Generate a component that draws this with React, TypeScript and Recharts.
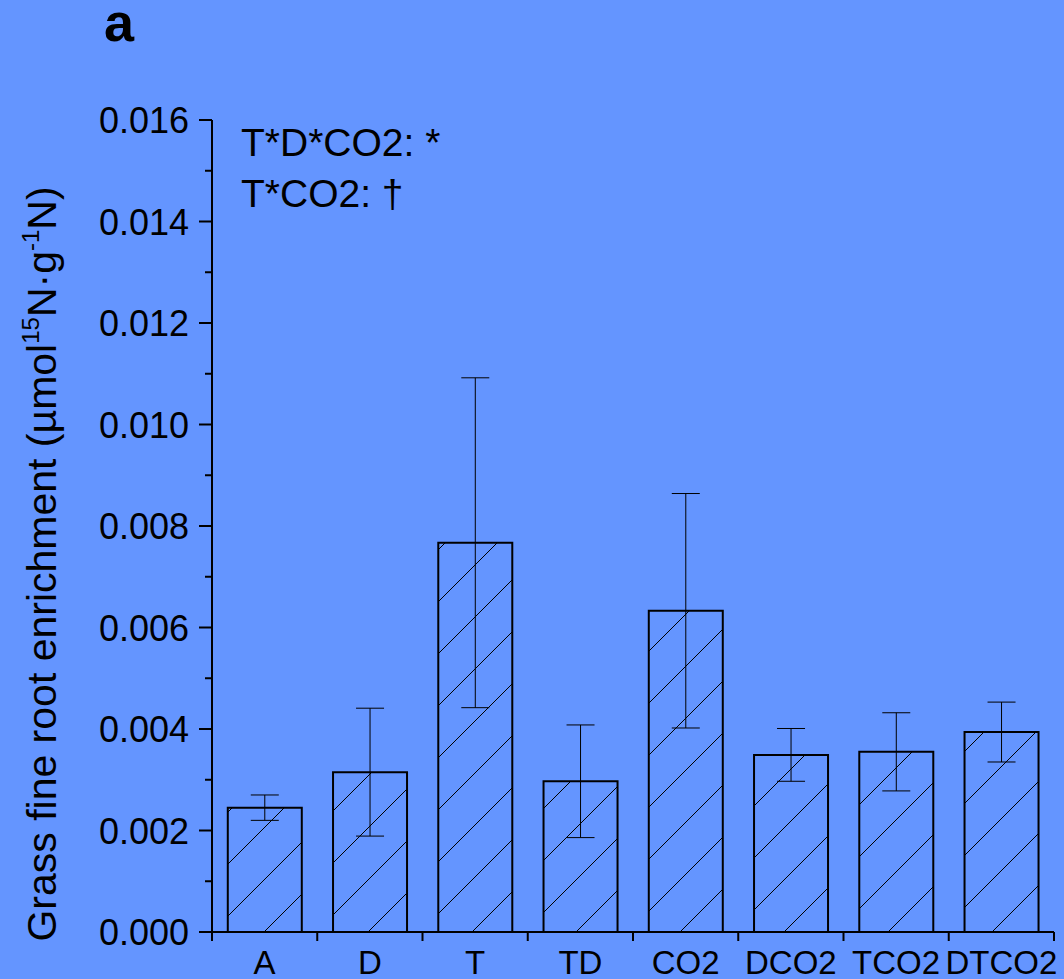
import React from 'react';
import { BarChart, Bar, XAxis, YAxis, ErrorBar } from 'recharts';

const categories = ['A', 'D', 'T', 'TD', 'CO2', 'DCO2', 'TCO2', 'DTCO2'];
const means = [0.00245, 0.00315, 0.00767, 0.00297, 0.00633, 0.00349, 0.00355, 0.00394];
const errs = [0.00025, 0.00126, 0.00325, 0.00111, 0.00231, 0.00052, 0.00077, 0.00059];
const yTicks = [0, 0.001, 0.002, 0.003, 0.004, 0.005, 0.006, 0.007, 0.008, 0.009, 0.01, 0.011, 0.012, 0.013, 0.014, 0.015, 0.016];
const annotations = ['T*D*CO2: *', 'T*CO2: \u2020'];
const panelLabel = 'a';

const data = categories.map((c, i) => ({ name: c, value: means[i], err: errs[i] }));

const FONT = '"Liberation Sans", Arial, sans-serif';
const BG = '#6495FF';

const YTick = (props: any) => {
  const { x, y, payload, index } = props;
  const major = index % 2 === 0;
  return (
    <g>
      <line x1={x - (major ? 13 : 7)} x2={x} y1={y} y2={y} stroke="#000" strokeWidth={2} />
      {major && (
        <text x={x - 23} y={y + 13} textAnchor="end" fontFamily={FONT} fontSize={36} fill="#000">
          {Number(payload.value).toFixed(3)}
        </text>
      )}
    </g>
  );
};

const XTick = (props: any) => {
  const { x, y, payload, index, visibleTicksCount } = props;
  const half = payload.offset ?? 52.6;
  const last = index === (visibleTicksCount ?? categories.length) - 1;
  return (
    <g>
      <line x1={x - half} x2={x - half} y1={y} y2={y + 9} stroke="#000" strokeWidth={2} />
      {last && <line x1={x + half} x2={x + half} y1={y} y2={y + 9} stroke="#000" strokeWidth={2} />}
      <text x={x} y={y + 42} textAnchor="middle" fontFamily={FONT} fontSize={33} fill="#000">
        {payload.value}
      </text>
    </g>
  );
};

export default function App() {
  return (
    <div style={{ position: 'absolute', left: 0, top: 0, width: 1064, height: 979, background: BG }}>
      <BarChart
        width={1064}
        height={979}
        data={data}
        margin={{ top: 120, right: 10, bottom: 0, left: 0 }}
        barCategoryGap="15%"
      >
        <defs>
          <pattern id="hatch" patternUnits="userSpaceOnUse" width={52} height={52}>
            <path d="M0,52 L52,0 M-13,13 L13,-13 M39,65 L65,39" stroke="#000" strokeWidth={1} />
          </pattern>
        </defs>
        <XAxis
          dataKey="name"
          height={47}
          axisLine={{ stroke: '#000', strokeWidth: 2 }}
          tickLine={false}
          tickSize={0}
          tickMargin={0}
          tick={<XTick />}
          interval={0}
        />
        <YAxis
          width={212}
          domain={[0, 0.016]}
          ticks={yTicks}
          interval={0}
          tickSize={0}
          tickMargin={0}
          axisLine={{ stroke: '#000', strokeWidth: 2 }}
          tickLine={false}
          tick={<YTick />}
        />
        <Bar dataKey="value" fill="url(#hatch)" stroke="#000" strokeWidth={2} isAnimationActive={false}>
          <ErrorBar dataKey="err" width={14} stroke="#000" strokeWidth={1} />
        </Bar>
      </BarChart>
      <svg
        width={1064}
        height={979}
        style={{ position: 'absolute', left: 0, top: 0, pointerEvents: 'none' }}
      >
        <text x={104} y={41} style={{ fontFamily: 'Liberation Sans', fontWeight: 700, fontSize: 54 }} fill="#000">
          {panelLabel}
        </text>
        {annotations.map((t, i) => (
          <text key={t} x={241} y={156 + i * 51} fontFamily={FONT} fontSize={39} fill="#000">
            {t}
          </text>
        ))}
        <text
          transform="translate(56,564) rotate(-90)"
          textAnchor="middle"
          fontFamily={FONT}
          fontSize={41}
          fill="#000"
        >
          Grass fine root enrichment (µmol
          <tspan fontSize={24} dy={-17}>15</tspan>
          <tspan dy={17}>N·g</tspan>
          <tspan fontSize={24} dy={-17}>-1</tspan>
          <tspan dy={17}>N)</tspan>
        </text>
      </svg>
    </div>
  );
}
